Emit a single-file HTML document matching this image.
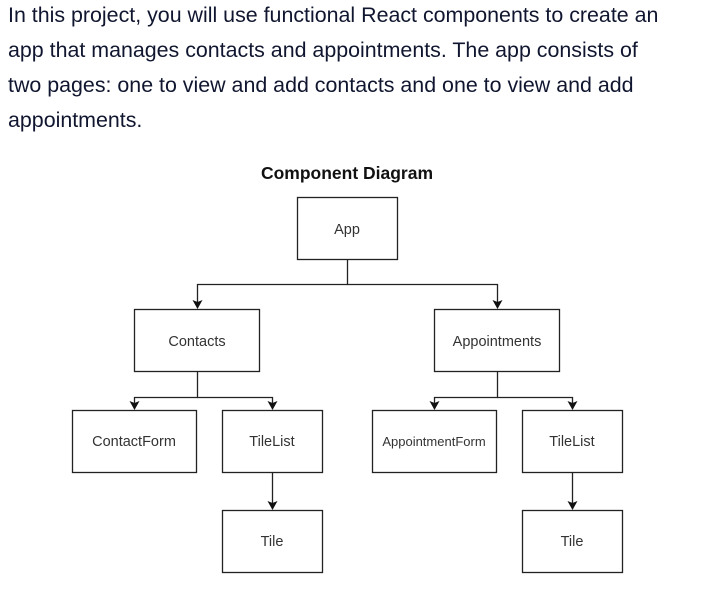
<!DOCTYPE html>
<html><head><meta charset="utf-8"><style>
html,body{margin:0;padding:0;background:#fff;width:711px;height:591px;overflow:hidden}
p{position:absolute;left:8px;top:-2px;margin:0;width:710px;font-family:"Liberation Sans",sans-serif;font-size:21.4px;line-height:35px;color:#10162f;white-space:nowrap}
svg{position:absolute;left:0;top:0}
</style></head><body>
<p>In this project, you will use functional React components to create an<br>app that manages contacts and appointments. The app consists of<br>two pages: one to view and add contacts and one to view and add<br>appointments.</p>
<svg width="711" height="591" xmlns="http://www.w3.org/2000/svg">
<g fill="none" stroke="#222" stroke-width="1.3">
<rect x="297.5" y="197.5" width="100" height="62"/>
<rect x="134.5" y="309.5" width="125" height="62"/>
<rect x="434.5" y="309.5" width="125" height="62"/>
<rect x="72.5" y="410.5" width="124" height="62"/>
<rect x="222.5" y="410.5" width="100" height="62"/>
<rect x="372.5" y="410.5" width="124" height="62"/>
<rect x="522.5" y="410.5" width="100" height="62"/>
<rect x="222.5" y="510.5" width="100" height="62"/>
<rect x="522.5" y="510.5" width="100" height="62"/>
<path d="M347.5 260 V284.5 H197.5 V302"/>
<path d="M347.5 284.5 H497.5 V302"/>
<path d="M197.5 372 V397.5 H134.5 V403"/>
<path d="M197.5 397.5 H272.5 V403"/>
<path d="M497.5 372 V397.5 H434.5 V403"/>
<path d="M497.5 397.5 H572.5 V403"/>
<path d="M272.5 473 V503"/>
<path d="M572.5 473 V503"/>
</g>
<g fill="#111">
<path d="M192.5 300 L197.5 302 L202.5 300 L197.5 309 Z"/>
<path d="M492.5 300 L497.5 302 L502.5 300 L497.5 309 Z"/>
<path d="M129.5 401 L134.5 403 L139.5 401 L134.5 410 Z"/>
<path d="M267.5 401 L272.5 403 L277.5 401 L272.5 410 Z"/>
<path d="M429.5 401 L434.5 403 L439.5 401 L434.5 410 Z"/>
<path d="M567.5 401 L572.5 403 L577.5 401 L572.5 410 Z"/>
<path d="M267.5 501 L272.5 503 L277.5 501 L272.5 510 Z"/>
<path d="M567.5 501 L572.5 503 L577.5 501 L572.5 510 Z"/>
</g>
<g font-family="Liberation Sans, sans-serif" font-size="14.5" fill="#333" text-anchor="middle">
<text x="347" y="179" font-size="17.5" font-weight="bold" fill="#111">Component Diagram</text>
<text x="347" y="234">App</text>
<text x="197" y="346">Contacts</text>
<text x="497" y="346">Appointments</text>
<text x="134" y="446">ContactForm</text>
<text x="272" y="446">TileList</text>
<text x="434" y="446" font-size="13">AppointmentForm</text>
<text x="572" y="446">TileList</text>
<text x="272" y="546">Tile</text>
<text x="572" y="546">Tile</text>
</g>
</svg>
</body></html>
